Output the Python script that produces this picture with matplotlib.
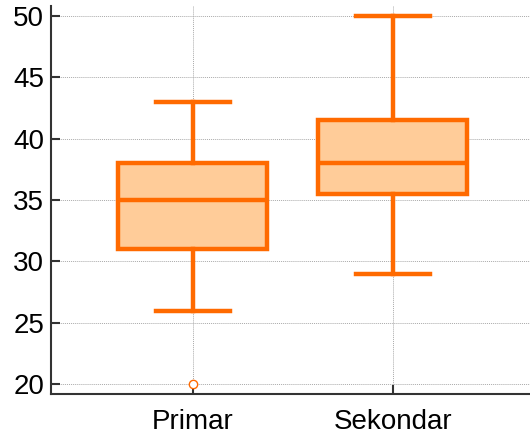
import matplotlib.pyplot as plt

plt.rcParams["font.family"] = ["Liberation Sans", "DejaVu Sans"]

# box statistics per group
groups = ["Primar", "Sekondar"]
q1 = [31.0, 35.5]
med = [35.0, 38.0]
q3 = [38.0, 41.5]
whislo = [26.0, 29.0]
whishi = [43.0, 50.0]
fliers = [[20.0], []]

orange = "#ff6a00"
fill = "#ffcc99"

stats = []
for i, g in enumerate(groups):
    stats.append(dict(label=g, q1=q1[i], med=med[i], q3=q3[i],
                      whislo=whislo[i], whishi=whishi[i], fliers=fliers[i]))

fig = plt.figure(figsize=(5.3, 4.38), dpi=100)
ax = fig.add_axes([0.0962, 0.1005, 0.9038, 0.8855])

ax.bxp(stats, positions=[1, 2], widths=0.745, patch_artist=True,
       showfliers=True, capwidths=0.37,
       boxprops=dict(facecolor=fill, edgecolor=orange, linewidth=3.2),
       medianprops=dict(color=orange, linewidth=3.2),
       whiskerprops=dict(color=orange, linewidth=3.2),
       capprops=dict(color=orange, linewidth=3.2),
       flierprops=dict(marker="o", markersize=6, markerfacecolor="white",
                       markeredgecolor=orange, markeredgewidth=1))

ax.set_xlim(0.29, 2.685)
ax.set_ylim(19.2, 50.8)
ax.set_yticks([20, 25, 30, 35, 40, 45, 50])
ax.grid(True, color="#aaaaaa", linestyle=(0, (1, 1)), linewidth=0.7)
ax.set_axisbelow(True)

for s in ["top", "right"]:
    ax.spines[s].set_visible(False)
for s in ["left", "bottom"]:
    ax.spines[s].set_color("#333333")
    ax.spines[s].set_linewidth(1.5)

ax.tick_params(direction="in", length=6.5, width=1.5, color="#333333",
               labelsize=20, pad=5)
ax.tick_params(axis="x", pad=11)

fig.savefig("out.png", dpi=100)
